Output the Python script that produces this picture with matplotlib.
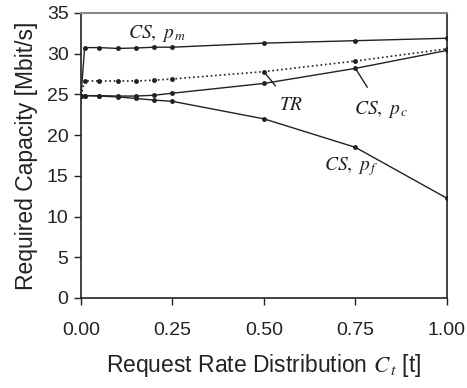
import matplotlib.pyplot as plt
import numpy as np

plt.rcParams['font.family'] = ['Liberation Sans', 'DejaVu Sans']
plt.rcParams['mathtext.fontset'] = 'stix'

# request rate distribution C_t
x = [0.0, 0.01, 0.05, 0.10, 0.15, 0.20, 0.25, 0.50, 0.75, 1.00]

cs_pm = [24.85, 30.75, 30.75, 30.65, 30.7, 30.8, 30.8, 31.3, 31.6, 31.9]
tr = [24.85, 26.65, 26.65, 26.65, 26.65, 26.75, 26.9, 27.8, 29.1, 30.6]
cs_pc = [24.85, 24.85, 24.85, 24.8, 24.8, 24.9, 25.15, 26.35, 28.2, 30.4]
cs_pf = [24.85, 24.85, 24.8, 24.7, 24.5, 24.3, 24.15, 22.0, 18.5, 12.25]

xticks = [0.0, 0.25, 0.5, 0.75, 1.0]
yticks = [0, 5, 10, 15, 20, 25, 30, 35]

fig = plt.figure(figsize=(4.67, 3.88), dpi=100)
ax = fig.add_axes([0.1734, 0.232, 0.7836, 0.7345])

lc = '#222222'
ax.plot(x, cs_pm, '-', color=lc, lw=1.0, marker='o', ms=2.5)
ax.plot(x, tr, ':', color=lc, lw=1.2, marker='o', ms=2.5)
ax.plot(x, cs_pc, '-', color=lc, lw=1.0, marker='o', ms=2.5)
ax.plot(x, cs_pf, '-', color=lc, lw=1.0, marker='o', ms=2.5)

ax.set_xlim(0, 1)
ax.set_ylim(0, 35)
ax.set_xticks(xticks)
ax.set_xticklabels(['%.2f' % v for v in xticks])
ax.set_yticks(yticks)
ax.tick_params(direction='out', length=5, width=1, labelsize=14, colors='#222222')
ax.tick_params(axis='x', pad=12)
ax.tick_params(axis='y', pad=4)
ax.spines['top'].set_color('#888888')
ax.spines['top'].set_linewidth(1.5)
for s in ['left', 'bottom', 'right']:
    ax.spines[s].set_color('#222222')
    ax.spines[s].set_linewidth(1.2)

ax.set_xlabel(r'Request Rate Distribution $C_{\,t}$ [t]', fontsize=16.5, labelpad=10, color='#222222')
ax.set_ylabel('Required Capacity [Mbit/s]', fontsize=16.5, labelpad=6, color='#222222')

tfont = dict(fontsize=14, color='#222222', ha='left', va='center')
ax.text(0.128, 32.5, r'$CS,\ p_{\,m}$', **tfont)
ax.annotate(r'$TR$', xy=(0.5, 27.8), xytext=(0.542, 23.6), **tfont,
            arrowprops=dict(arrowstyle='-', color=lc, lw=1.0, shrinkA=8, shrinkB=0))
ax.annotate(r'$CS,\ p_{\,c}$', xy=(0.75, 28.2), xytext=(0.747, 23.1), **tfont,
            arrowprops=dict(arrowstyle='-', color=lc, lw=1.0, shrinkA=8, shrinkB=0))
ax.text(0.665, 16.1, r'$CS,\ p_{\,f}$', **tfont)

fig.savefig('out.png', dpi=100)
